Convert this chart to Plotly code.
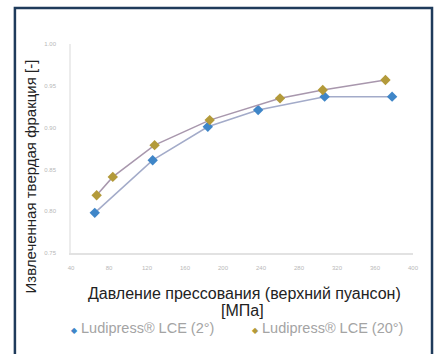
import plotly.graph_objects as go

# Upper-punch compaction pressure [MPa] and recovered solid fraction [-]
pressure_2 = [65, 126, 184, 237, 307, 378]
fraction_2 = [0.798, 0.861, 0.901, 0.921, 0.937, 0.937]

pressure_20 = [67, 84, 128, 186, 260, 305, 371]
fraction_20 = [0.819, 0.841, 0.879, 0.909, 0.935, 0.945, 0.957]

x_ticks = [40, 80, 120, 160, 200, 240, 280, 320, 360, 400]
y_ticks = [0.75, 0.80, 0.85, 0.90, 0.95, 1.00]

series_names = ["Ludipress\u00ae LCE (2\u00b0)", "Ludipress\u00ae LCE (20\u00b0)"]
marker_colors = ["#3f86c8", "#b39a3a"]
line_colors = ["#a3abc9", "#a897ad"]

fig = go.Figure()
fig.add_trace(go.Scatter(
    x=pressure_2, y=fraction_2, mode="lines+markers", name=series_names[0],
    line=dict(color=line_colors[0], width=1.5),
    marker=dict(symbol="diamond", size=8, color=marker_colors[0]),
    showlegend=False,
))
fig.add_trace(go.Scatter(
    x=pressure_20, y=fraction_20, mode="lines+markers", name=series_names[1],
    line=dict(color=line_colors[1], width=1.5),
    marker=dict(symbol="diamond", size=8, color=marker_colors[1]),
    showlegend=False,
))


def py(pixel_row):
    """Convert a pixel row in the figure to a paper y coordinate."""
    return (253 - pixel_row) / 209


# legend entries drawn as text items beneath the axis title
legend_items = []
for name, color, xc in zip(series_names, marker_colors, [0.208, 0.749]):
    legend_items.append(dict(
        text=f'<span style="color:{color};font-size:8px">\u25c6</span> {name}',
        xref="paper", yref="paper", x=xc, y=py(328),
        xanchor="center", yanchor="middle", showarrow=False,
        font=dict(size=14.5, color="#a4a4a4"),
    ))

fig.update_layout(
    width=437, height=354,
    margin=dict(l=71, r=24, t=44, b=101),
    paper_bgcolor="white", plot_bgcolor="white",
    font=dict(family="Liberation Sans, Arial, sans-serif", color="#222"),
    showlegend=False,
    xaxis=dict(range=[40, 400], tickvals=x_ticks, showgrid=False, zeroline=False,
               showline=True, linecolor="#e2e2e2", linewidth=2,
               tickfont=dict(size=6, color="#b8b8b8"), ticks="",
               ticklabelstandoff=8),
    yaxis=dict(range=[0.75, 1.0], tickvals=y_ticks, tickformat=".2f",
               showgrid=False, zeroline=False,
               showline=True, linecolor="#ececec", linewidth=1.5,
               tickfont=dict(size=6, color="#b8b8b8"), ticks="",
               ticklabelstandoff=12),
    shapes=[dict(type="rect", xref="paper", yref="paper",
                 x0=-0.164, x1=1.0556, y0=-0.52, y1=1.172,
                 line=dict(color="#1f3b5b", width=2.5))],
    annotations=[
        dict(text="Извлеченная твердая фракция [-]", xref="paper", yref="paper",
             x=-0.117, y=0.366, xanchor="center", yanchor="middle",
             textangle=-90, showarrow=False,
             font=dict(size=15, color="#222")),
        dict(text="Давление прессования (верхний пуансон)",
             xref="paper", yref="paper", x=0.506, y=py(293),
             xanchor="center", yanchor="middle",
             showarrow=False, font=dict(size=16, color="#222")),
        dict(text="[МПа]",
             xref="paper", yref="paper", x=0.500, y=py(310),
             xanchor="center", yanchor="middle",
             showarrow=False, font=dict(size=16, color="#222")),
    ] + legend_items,
)

fig.write_html("out.html")
